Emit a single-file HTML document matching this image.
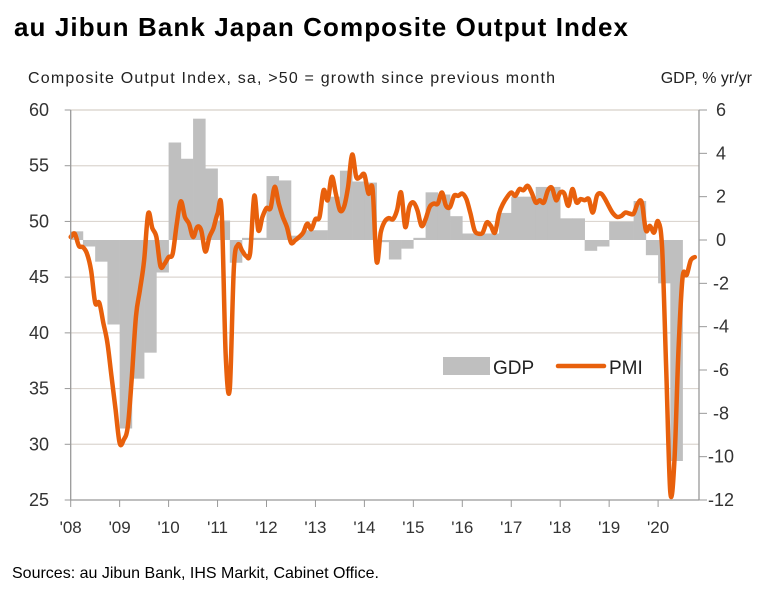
<!DOCTYPE html>
<html><head><meta charset="utf-8"><style>
html,body{margin:0;padding:0;background:#fff;}
svg{display:block;font-family:"Liberation Sans",sans-serif;}
</style></head><body>
<svg id="chart" width="770" height="594" viewBox="0 0 770 594">
<text x="14" y="36" font-size="26" font-weight="bold" fill="#000" textLength="614">au Jibun Bank Japan Composite Output Index</text>
<text x="28" y="83" font-size="16" fill="#222" textLength="527">Composite Output Index, sa, &gt;50 = growth since previous month</text>
<text x="752" y="83" font-size="16" fill="#222" text-anchor="end">GDP, % yr/yr</text>
<text x="12" y="578" font-size="16" fill="#000">Sources: au Jibun Bank, IHS Markit, Cabinet Office.</text>
<g id="grid"></g>
<g id="bars"></g>
<g id="line"></g>
<g id="axes"></g>
<g>
<rect x="443" y="357" width="47" height="18" fill="#bfbfbf"/>
<text x="493" y="374" font-size="19" fill="#222">GDP</text>
<line x1="558" y1="366" x2="604" y2="366" stroke="#e8600c" stroke-width="4.5" stroke-linecap="round"/>
<text x="609" y="374" font-size="19" fill="#222">PMI</text>
</g>
</svg>
<script>
const years = ["'08","'09","'10","'11","'12","'13","'14","'15","'16","'17","'18","'19","'20"];
const leftTicks = [25,30,35,40,45,50,55,60];
const rightTicks = [-12,-10,-8,-6,-4,-2,0,2,4,6];
const gdp = [0.4,-0.3,-1.0,-3.9, -8.7,-6.4,-5.2,-1.5, 4.5,3.75,5.6,3.3, 0.9,-1.05,0.1,0.1,
 2.95,2.75,0.2,0.45, 0.45,2.0,3.2,2.7, 2.65,-0.1,-0.9,-0.4, 0.1,2.2,2.1,1.1,
 0.3,0.3,0.3,1.25, 2.0,2.0,2.45,2.45, 1.0,1.0,-0.5,-0.3, 0.85,0.85,1.8,-0.7, -2.0,-10.2];
const pmi = [48.6,48.9,47.8,47.7,47.1,45.6,42.7,42.7,40.9,39.1,36.1,33.1,
 30.1,30.4,31.6,36.1,41.5,43.9,46.5,50.7,49.4,48.6,46.0,46.2,
 46.8,47.1,49.8,51.8,50.4,49.8,48.6,49.5,49.2,47.3,48.6,49.4,
 50.7,51.0,38.0,35.0,45.9,47.9,47.4,46.9,47.2,52.3,49.2,50.4,
 51.2,51.2,53.1,51.6,50.4,49.5,48.1,48.3,48.6,49.0,49.8,49.3,
 50.2,50.4,52.8,51.9,54.0,52.5,51.0,51.3,53.1,56.0,54.0,54.0,
 54.2,52.5,52.9,46.4,49.0,50.0,50.3,50.2,51.0,52.6,49.5,51.3,
 51.7,51.0,49.6,50.2,51.3,51.6,51.6,52.6,51.4,51.3,52.3,52.3,
 52.5,52.0,50.7,49.2,48.9,49.0,49.9,49.6,49.0,50.7,51.6,52.2,
 52.6,52.3,52.9,52.8,53.2,52.6,51.7,51.9,51.7,52.8,53.0,51.9,
 52.6,52.5,51.4,52.9,51.7,52.0,51.9,52.0,50.8,52.3,52.5,52.0,
 51.3,50.7,50.4,50.5,50.8,50.7,50.7,51.6,51.7,49.2,49.6,49.0,
 50.0,47.5,36.5,25.7,28.5,38.5,45.0,45.2,46.5,46.8];

const NS="http://www.w3.org/2000/svg";
const X0=70.7, YR=48.95, TOP=110, BOT=500, XR=699;
function xOf(t){return X0+t*YR;}
function yL(v){return TOP+(60-v)*(BOT-TOP)/35;}
function yR(v){return TOP+(6-v)*(BOT-TOP)/18;}
function mk(tag,attrs,parent){const e=document.createElementNS(NS,tag);for(const k in attrs)e.setAttribute(k,attrs[k]);parent.appendChild(e);return e;}
const grid=document.getElementById('grid'),bars=document.getElementById('bars'),line=document.getElementById('line'),axes=document.getElementById('axes');

leftTicks.forEach(v=>{
  if(v>25){const g=mk('line',{x1:X0,x2:XR,y1:yL(v),y2:yL(v),stroke:'#dcd6d0','stroke-width':1.2},grid);
  
  }
  const t=mk('text',{x:49,y:yL(v)+6,'font-size':18,fill:'#333','text-anchor':'end'},axes);
  t.textContent=v;
  
  
  const tk=mk('line',{x1:X0-6,x2:X0,y1:yL(v),y2:yL(v),stroke:'#999','stroke-width':1},axes);
  
  
});
rightTicks.forEach(v=>{
  const t=mk('text',{x:721,y:yR(v)+6,'font-size':18,fill:'#333','text-anchor':'middle'},axes);
  t.textContent=v;
  
  
  const tk=mk('line',{x1:XR,x2:XR+8,y1:yR(v),y2:yR(v),stroke:'#999','stroke-width':1},axes);
  
  
});
years.forEach((lab,i)=>{
  const x=xOf(i);
  const tk=mk('line',{x1:x,x2:x,y1:BOT,y2:BOT+7,stroke:'#999','stroke-width':1},axes);
  
  
  const t=mk('text',{x:x,y:533,'font-size':17,fill:'#333','text-anchor':'middle'},axes);
  t.textContent=lab;
  
  
});
const al=mk('line',{x1:X0,x2:X0,y1:TOP,y2:BOT,stroke:'#999','stroke-width':1.3},axes);


const ar=mk('line',{x1:XR,x2:XR,y1:TOP,y2:BOT,stroke:'#999','stroke-width':1.3},axes);


const ab=mk('line',{x1:X0,x2:XR,y1:BOT,y2:BOT,stroke:'#999','stroke-width':1.3},axes);


const tl=mk('line',{x1:X0,x2:XR,y1:TOP,y2:TOP,stroke:'#dcd6d0','stroke-width':1.2},grid);



gdp.forEach((v,i)=>{
  const x=xOf(i*0.25), w=YR/4, y0=yR(0), y1=yR(v);
  const r=mk('rect',{x:x,y:Math.min(y0,y1),width:w+0.3,height:Math.max(1,Math.abs(y1-y0)),fill:'#bfbfbf'},bars);
  
  
});

const pts=pmi.map((v,i)=>[xOf(i/12),yL(v)]);
let d='M'+pts[0][0].toFixed(1)+','+pts[0][1].toFixed(1);
for(let i=0;i<pts.length-1;i++){
  const p0=pts[Math.max(0,i-1)],p1=pts[i],p2=pts[i+1],p3=pts[Math.min(pts.length-1,i+2)];
  const c1=[p1[0]+(p2[0]-p0[0])/6,p1[1]+(p2[1]-p0[1])/6];
  const c2=[p2[0]-(p3[0]-p1[0])/6,p2[1]-(p3[1]-p1[1])/6];
  d+=' C'+c1[0].toFixed(1)+','+c1[1].toFixed(1)+' '+c2[0].toFixed(1)+','+c2[1].toFixed(1)+' '+p2[0].toFixed(1)+','+p2[1].toFixed(1);
}
const pl=mk('path',{d:d,fill:'none',stroke:'#e8600c','stroke-width':4.5,'stroke-linejoin':'round','stroke-linecap':'round'},line);


</script>
</body></html>
